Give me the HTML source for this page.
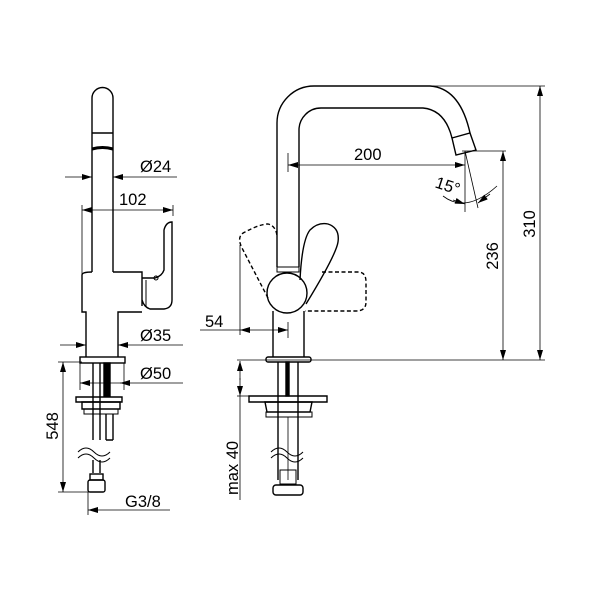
<!DOCTYPE html>
<html><head><style>html,body{margin:0;padding:0;background:#fff}svg{display:block}text{font-family:"Liberation Sans",sans-serif;font-size:16.5px;fill:#000}</style></head>
<body>
<svg width="600" height="600" viewBox="0 0 600 600" xmlns="http://www.w3.org/2000/svg">
<defs>
<marker id="a" viewBox="0 0 10 6" refX="10" refY="3" markerWidth="10" markerHeight="6" markerUnits="userSpaceOnUse" orient="auto-start-reverse"><path d="M0,0L10,3L0,6z" fill="#000"/></marker>
</defs>
<g fill="none" stroke="#000" stroke-width="1.4">
<!-- LEFT VIEW -->
<path d="M92,272V98a10.5,10.5 0 0 1 21,0V272"/>
<line x1="92" y1="133" x2="113" y2="133"/>
<path d="M92,149q10.5,-3 21,0" stroke-width="3"/>
<path d="M113,272H142V306M82,275Q82,272 92,272M82,275V312H86V357M118,357V312H142"/>
<path d="M142,278H155Q162,276 164,270V230Q166,222 172,222V300Q172,308 164,309H150Q144,307 142,300"/>
<line x1="146" y1="280" x2="146" y2="306" stroke-width="1"/>
<circle cx="156" cy="278" r="2" stroke-width="1"/>
<rect x="80" y="357" width="45" height="6"/>
<line x1="93" y1="363" x2="93" y2="440"/><line x1="100" y1="363" x2="100" y2="440"/>
<rect x="104" y="363" width="6" height="33" fill="#000"/>
<path d="M76,397H122V402H76z"/>
<path d="M82,402H120V409H82z"/>
<path d="M84,409H118V414H84z" stroke-width="1"/>
<path d="M106,414V440M113,414V440M106,440H113"/>
<path d="M78,452q8,-8 16,0t16,0M78,458q8,-8 16,0t16,0" stroke-width="1"/>
<line x1="93" y1="460" x2="93" y2="473"/><line x1="100" y1="460" x2="100" y2="473"/>
<rect x="88" y="480" width="17" height="12" rx="2"/>
<rect x="90" y="474" width="13" height="6"/>
<!-- left dims -->
<g stroke-width="0.8">
<line x1="65" y1="177" x2="92" y2="177" marker-end="url(#a)"/>
<line x1="177" y1="177" x2="113" y2="177" marker-end="url(#a)"/>
<line x1="82" y1="205" x2="82" y2="275"/><line x1="173" y1="205" x2="173" y2="216"/>
<line x1="82" y1="210" x2="173" y2="210" marker-start="url(#a)" marker-end="url(#a)"/>
<line x1="60" y1="345" x2="86" y2="345" marker-end="url(#a)"/>
<line x1="183" y1="345" x2="118" y2="345" marker-end="url(#a)"/>
<line x1="80" y1="363" x2="80" y2="390"/><line x1="124" y1="363" x2="124" y2="390"/>
<line x1="80" y1="383" x2="183" y2="383" marker-start="url(#a)"/>
<line x1="124" y1="383" x2="120" y2="383" marker-end="url(#a)"/>
<line x1="58" y1="362" x2="82" y2="362"/><line x1="58" y1="492" x2="90" y2="492"/>
<line x1="63" y1="362" x2="63" y2="492" marker-start="url(#a)" marker-end="url(#a)"/>
<line x1="88" y1="492" x2="88" y2="515"/>
<line x1="170" y1="510" x2="88" y2="510" marker-end="url(#a)"/>
</g>
<!-- RIGHT VIEW -->
<path d="M277,267V123a37,37 0 0 1 37,-37H430Q460,88 470,133"/>
<path d="M299,267V130a22,22 0 0 1 22,-22H423Q445,110 452,138"/>
<path d="M452,138L470,133L476,150L456,155z"/>
<path d="M277,267H299V272H277z" stroke-width="1"/>
<circle cx="287" cy="293" r="20"/>
<path d="M300,280Q302,240 310,230Q318,222 328,224Q340,228 338,242Q336,255 306,304"/>
<path d="M268,298L242,248Q236,236 245,232Q260,224 268,224Q276,226 277,236" stroke-dasharray="4,2.5"/>
<path d="M322,272H358Q366,272 366,282V302Q366,311 356,311H305" stroke-dasharray="4,2.5"/>
<path d="M273,311V357M304,311V357"/>
<rect x="266" y="357" width="45" height="5" rx="2"/>
<line x1="278" y1="362" x2="278" y2="480"/><line x1="298" y1="362" x2="298" y2="480"/>
<rect x="286" y="362" width="3" height="34" fill="#000"/>
<path d="M249,396H327V402H249z"/>
<path d="M265,402H312L310,412H267z"/>
<rect x="266" y="412" width="46" height="5" stroke-width="1"/>
<path d="M271,452q8,-8 16,0t16,0M271,458q8,-8 16,0t16,0" stroke-width="1"/>
<line x1="288" y1="417" x2="288" y2="480" stroke-width="0.8"/>
<rect x="280" y="470" width="16" height="14" stroke-width="1"/>
<rect x="273" y="485" width="30" height="10" rx="3"/>
<!-- right dims -->
<g stroke-width="0.8">
<line x1="288" y1="153" x2="288" y2="172"/>
<line x1="288" y1="165" x2="465" y2="165" marker-start="url(#a)" marker-end="url(#a)"/>
<line x1="462" y1="151" x2="506" y2="151"/>
<line x1="465" y1="151" x2="465" y2="212"/>
<line x1="465" y1="151" x2="478" y2="208"/>
<path d="M443,196Q466,214 497,186"/>
<line x1="453" y1="200" x2="465" y2="204" marker-end="url(#a)"/>
<line x1="490" y1="194" x2="478" y2="203" marker-end="url(#a)"/>
<line x1="503" y1="151" x2="503" y2="360" marker-start="url(#a)" marker-end="url(#a)"/>
<line x1="430" y1="86" x2="545" y2="86"/>
<line x1="540" y1="86" x2="540" y2="360" marker-start="url(#a)" marker-end="url(#a)"/>
<line x1="237" y1="360" x2="545" y2="360"/>
<line x1="240" y1="245" x2="240" y2="335"/>
<line x1="288" y1="322" x2="288" y2="338"/>
<line x1="200" y1="330" x2="240" y2="330"/>
<line x1="264" y1="330" x2="240" y2="330" marker-end="url(#a)"/>
<line x1="264" y1="330" x2="288" y2="330" marker-end="url(#a)"/>
<line x1="240" y1="396" x2="240" y2="500"/>
<line x1="240" y1="380" x2="240" y2="361" marker-end="url(#a)"/>
<line x1="240" y1="378" x2="240" y2="396" marker-end="url(#a)"/>
<line x1="237" y1="396" x2="250" y2="396"/>
</g>
</g>
<text x="140" y="172">Ø24</text>
<text x="119" y="205">102</text>
<text x="140" y="341">Ø35</text>
<text x="140" y="379">Ø50</text>
<text x="125" y="507">G3/8</text>
<text transform="translate(58,426) rotate(-90)" text-anchor="middle">548</text>
<text x="354" y="160">200</text>
<text x="205" y="327">54</text>
<text transform="translate(446,191) rotate(18)" text-anchor="middle">15°</text>
<text transform="translate(498,256) rotate(-90)" text-anchor="middle">236</text>
<text transform="translate(535,224) rotate(-90)" text-anchor="middle">310</text>
<text transform="translate(238,468) rotate(-90)" text-anchor="middle">max 40</text>
</svg>
</body></html>
